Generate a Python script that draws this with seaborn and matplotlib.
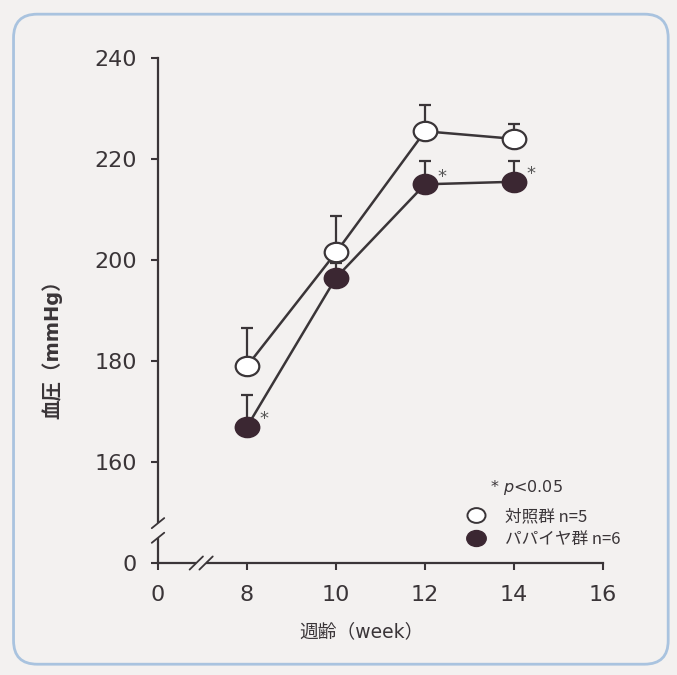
import matplotlib

matplotlib.use("Agg")
import matplotlib.pyplot as plt
import numpy as np
import pandas as pd
import seaborn as sns
from matplotlib.lines import Line2D
from matplotlib.patches import FancyBboxPatch
from matplotlib.path import Path
from matplotlib.transforms import Affine2D

# Data
WEEKS = [8, 10, 12, 14]
CONTROL_MEAN = [179.0, 201.5, 225.5, 224.0]
CONTROL_SE = [7.5, 7.2, 5.3, 3.0]
PAPAYA_MEAN = [167.0, 196.5, 215.0, 215.5]
PAPAYA_SE = [6.3, 3.0, 4.7, 4.2]
PAPAYA_SIGNIF = [True, False, True, True]

GROUP_LABELS = ["対照群 n=5", "パパイヤ群 n=6"]
X_TICKS = [6, 8, 10, 12, 14, 16]
X_TICK_LABELS = ["0", "8", "10", "12", "14", "16"]
Y_TICKS = [140, 160, 180, 200, 220, 240]
Y_TICK_LABELS = ["0", "160", "180", "200", "220", "240"]

BG = "#f3f1f0"
INK = "#3a3538"
DARK = "#3b2732"

sns.set_style("ticks")
plt.rcParams["font.family"] = ["DejaVu Sans", "Noto Sans CJK JP"]

# slightly flattened circle, like the printed symbols
ELLIPSE = Path(
    Affine2D().scale(1.0, 0.82).transform(Path.unit_circle().vertices),
    Path.unit_circle().codes,
)

df = pd.DataFrame(
    {
        "week": WEEKS * 2,
        "bp": CONTROL_MEAN + PAPAYA_MEAN,
        "se": CONTROL_SE + PAPAYA_SE,
        "group": [GROUP_LABELS[0]] * 4 + [GROUP_LABELS[1]] * 4,
    }
)

fig = plt.figure(figsize=(6.77, 6.75), dpi=100, facecolor=BG)
fig.patches.append(
    FancyBboxPatch(
        (0.02, 0.016),
        0.967,
        0.963,
        boxstyle="round,pad=0,rounding_size=0.035",
        transform=fig.transFigure,
        facecolor=BG,
        edgecolor="#a9c3df",
        linewidth=2,
        zorder=-10,
    )
)
ax = fig.add_axes([0.2334, 0.1659, 0.6573, 0.7481])
ax.set_facecolor("none")

styles = {
    GROUP_LABELS[0]: dict(markerfacecolor="white", markeredgecolor=INK),
    GROUP_LABELS[1]: dict(markerfacecolor=DARK, markeredgecolor=DARK),
}

for group, sub in df.groupby("group", sort=False):
    # upper-only error bars, drawn under the markers
    ax.errorbar(
        sub["week"],
        sub["bp"],
        yerr=[np.zeros(len(sub)), sub["se"]],
        fmt="none",
        ecolor=INK,
        elinewidth=1.6,
        capsize=4.5,
        capthick=1.6,
        zorder=2,
    )
    sns.lineplot(
        data=sub,
        x="week",
        y="bp",
        ax=ax,
        color=INK,
        linewidth=1.8,
        marker=ELLIPSE,
        markersize=17,
        markeredgewidth=1.6,
        zorder=3,
        **styles[group],
    )

papaya = df[df["group"] == GROUP_LABELS[1]]
for (_, row), sig in zip(papaya.iterrows(), PAPAYA_SIGNIF):
    if sig:
        ax.annotate(
            "*",
            (row["week"], row["bp"]),
            xytext=(9, -1),
            textcoords="offset points",
            fontsize=13,
            color="#555",
            va="bottom",
        )

ax.set_xlim(6, 16)
ax.set_ylim(140, 240)
ax.set_xticks(X_TICKS, X_TICK_LABELS)
ax.set_yticks(Y_TICKS, Y_TICK_LABELS)
ax.tick_params(axis="both", labelsize=16, colors=INK, width=1.5, length=5)
ax.tick_params(axis="x", pad=11)
ax.tick_params(axis="y", pad=10)
sns.despine(ax=ax)
for side in ["left", "bottom"]:
    ax.spines[side].set_color(INK)
    ax.spines[side].set_linewidth(1.6)

ax.set_xlabel("週齢（week）", fontsize=13.5, color=INK)
ax.set_ylabel("血圧（mmHg）", fontsize=14, color=INK, fontweight="bold")
ax.xaxis.set_label_coords(0.457, -0.117)
ax.yaxis.set_label_coords(-0.216, 0.432)

# axis break marks
def _break(x0, y0, x1, y1, dx, dy):
    ax.plot([x0, x1], [y0, y1], transform=ax.transAxes, color=BG,
            linewidth=4, clip_on=False, zorder=4, solid_capstyle="butt")
    for x, y in [(x0, y0), (x1, y1)]:
        ax.plot([x - dx, x + dx], [y - dy, y + dy], transform=ax.transAxes,
                color=INK, linewidth=1.3, clip_on=False, zorder=5)


_break(0.086, 0.0, 0.108, 0.0, 0.015, 0.013)
_break(0.0, 0.05, 0.0, 0.079, 0.014, 0.01)

# legend
handles = [
    Line2D([], [], linestyle="none", marker=ELLIPSE, markersize=13,
           markerfacecolor="white", markeredgecolor=INK, markeredgewidth=1.4),
    Line2D([], [], linestyle="none", marker=ELLIPSE, markersize=14,
           markerfacecolor=DARK, markeredgecolor=DARK),
]
leg = ax.legend(
    handles,
    GROUP_LABELS,
    loc="upper left",
    bbox_to_anchor=(0.663, 0.139),
    frameon=False,
    handlelength=1.0,
    handletextpad=1.2,
    labelspacing=0.38,
    prop={"family": ["Noto Sans CJK JP", "DejaVu Sans"], "size": 12},
)
for t in leg.get_texts():
    t.set_color(INK)
ax.text(0.746, 0.150, "* $p$<0.05", transform=ax.transAxes, fontsize=11.5,
        color=INK, va="center")

fig.savefig("out.png", dpi=100, facecolor=BG)
